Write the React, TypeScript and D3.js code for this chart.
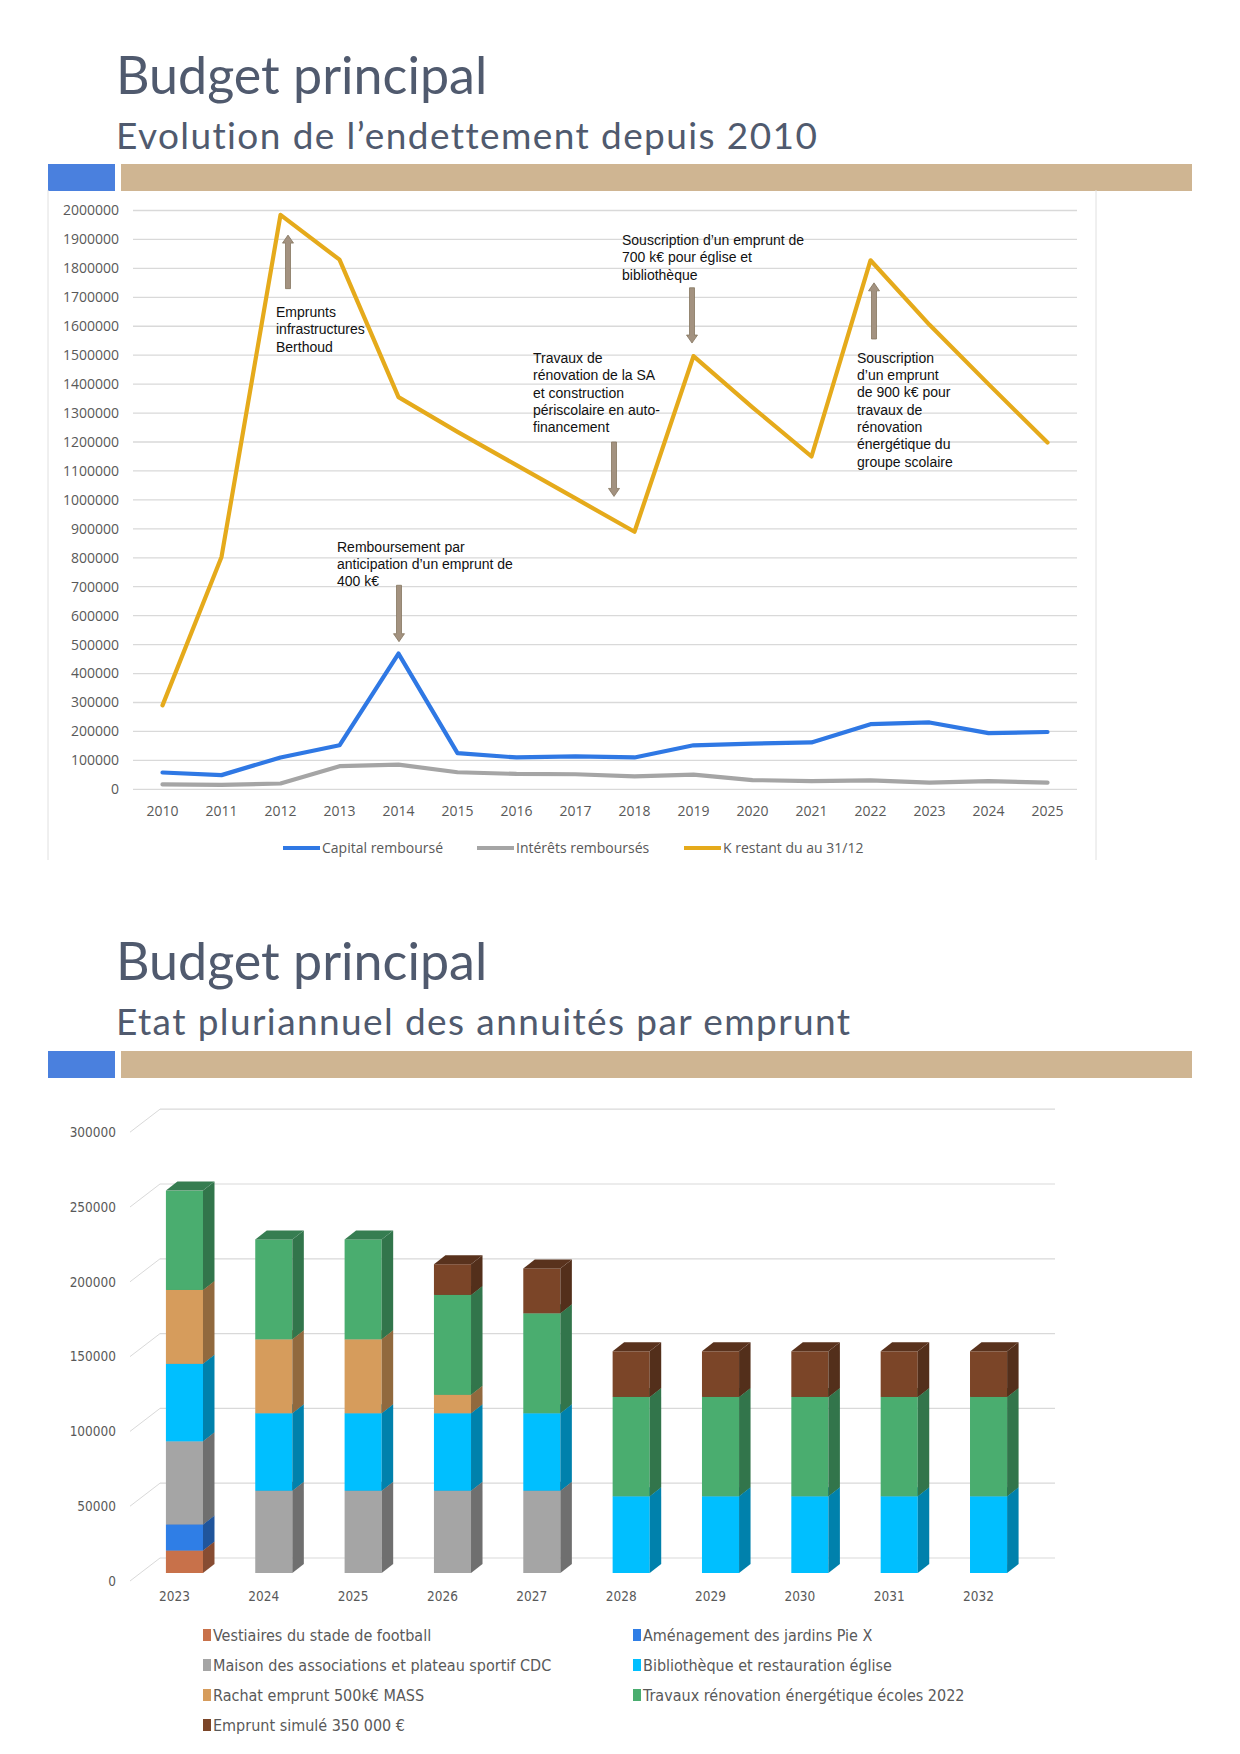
import React from 'react';
import * as d3 from 'd3';

// ---- chart 1 : evolution de l'endettement ----
const years = ['2010', '2011', '2012', '2013', '2014', '2015', '2016', '2017', '2018', '2019', '2020', '2021', '2022', '2023', '2024', '2025'];
const capitalRembourse = [58000, 49000, 110000, 152000, 469000, 125000, 110000, 114000, 110000, 152000, 158000, 162000, 225000, 231000, 194000, 198000];
const interetsRembourses = [17000, 15000, 20000, 80000, 85000, 59000, 53000, 52000, 45000, 51000, 32000, 28000, 31000, 23000, 28000, 23000];
const kRestant = [290000, 803000, 1985000, 1830000, 1355000, 1235000, 1120000, 1005000, 890000, 1497000, 1320000, 1150000, 1828000, 1605000, 1400000, 1198000];
const yTicks1 = d3.range(0, 2000001, 100000);

const series1 = [
  { name: 'Capital remboursé', values: capitalRembourse, color: '#2f78e4' },
  { name: 'Intérêts remboursés', values: interetsRembourses, color: '#a5a5a5' },
  { name: 'K restant du au 31/12', values: kRestant, color: '#e5aa1b' },
];

// annotations, anchored on a year + value positions
const notes = [
  { year: '2012', dx: -4.5, value: 1632000, lines: ['Emprunts', 'infrastructures', 'Berthoud'] },
  { year: '2014', dx: -61.5, value: 821000, lines: ['Remboursement par', 'anticipation d\u2019un emprunt de', '400 k€'] },
  { year: '2018', dx: -101.5, value: 1473000, lines: ['Travaux de', 'rénovation de la SA', 'et construction', 'périscolaire en auto-', 'financement'] },
  { year: '2019', dx: -71.5, value: 1881000, lines: ['Souscription d\u2019un emprunt de', '700 k€ pour église et', 'bibliothèque'] },
  { year: '2022', dx: -13.5, value: 1474000, lines: ['Souscription', 'd\u2019un emprunt', 'de 900 k€ pour', 'travaux de', 'rénovation', 'énergétique du', 'groupe scolaire'] },
];
const arrows = [
  { year: '2012', dx: 7.5, from: 1730000, to: 1915000 },
  { year: '2014', dx: 0.5, from: 705000, to: 510000 },
  { year: '2018', dx: -20.5, from: 1200000, to: 1012000 },
  { year: '2019', dx: -1.5, from: 1733000, to: 1542000 },
  { year: '2022', dx: 3.5, from: 1556000, to: 1750000 },
];

// ---- chart 2 : annuites par emprunt ----
const years2 = ['2023', '2024', '2025', '2026', '2027', '2028', '2029', '2030', '2031', '2032'];
const vestiaires = [15000, 0, 0, 0, 0, 0, 0, 0, 0, 0];
const amenagement = [17500, 0, 0, 0, 0, 0, 0, 0, 0, 0];
const maison = [55500, 55000, 55000, 55000, 55000, 0, 0, 0, 0, 0];
const bibliotheque = [51800, 51800, 51800, 51800, 51800, 51300, 51300, 51300, 51300, 51300];
const rachat = [49400, 49400, 49400, 12300, 0, 0, 0, 0, 0, 0];
const travaux = [66400, 66800, 66800, 66800, 66800, 66400, 66400, 66400, 66400, 66400];
const empruntSimule = [0, 0, 0, 20500, 30000, 30500, 30500, 30500, 30500, 30500];
const yTicks2 = [0, 50000, 100000, 150000, 200000, 250000, 300000];

const series2 = [
  { key: 'vestiaires', name: 'Vestiaires du stade de football', values: vestiaires, color: '#c8714a' },
  { key: 'amenagement', name: 'Aménagement des jardins Pie X', values: amenagement, color: '#2f7ee6' },
  { key: 'maison', name: 'Maison des associations et plateau sportif CDC', values: maison, color: '#a5a5a5' },
  { key: 'bibliotheque', name: 'Bibliothèque et restauration église', values: bibliotheque, color: '#00bfff' },
  { key: 'rachat', name: 'Rachat emprunt 500k€ MASS', values: rachat, color: '#d69c5c' },
  { key: 'travaux', name: 'Travaux rénovation énergétique écoles 2022', values: travaux, color: '#4aad6f' },
  { key: 'emprunt', name: 'Emprunt simulé 350 000 €', values: empruntSimule, color: '#7b4528' },
];

const TITLE_FONT = "Lato, 'Open Sans', sans-serif";
const AXIS_FONT = "'Open Sans', sans-serif";
const NARROW_FONT = "'Liberation Sans Narrow', 'DejaVu Sans Condensed', sans-serif";
const NOTE_FONT = "'Liberation Sans', Arial, sans-serif";

const Header: React.FC<{ titleY: number; subY: number; barY: number; sub: string }> = ({ titleY, subY, barY, sub }) => (
  <g>
    <text x={116} y={titleY} fontFamily={TITLE_FONT} fontSize={52} fill="#505a6e">Budget principal</text>
    <text x={116} y={subY} fontFamily={TITLE_FONT} fontSize={37} letterSpacing={1.4} fill="#505a6e">{sub}</text>
    <rect x={48} y={barY} width={67} height={27} fill="#4a80de" />
    <rect x={121} y={barY} width={1071} height={27} fill="#cfb592" />
  </g>
);

function arrowPath(x: number, y0: number, y1: number) {
  // y0 = tail, y1 = tip
  const dir = y1 > y0 ? 1 : -1;
  const hl = 8, sw = 2.5, hw = 5.5;
  const yb = y1 - dir * hl;
  return `M${x - sw},${y0} L${x + sw},${y0} L${x + sw},${yb} L${x + hw},${yb} L${x},${y1} L${x - hw},${yb} L${x - sw},${yb} Z`;
}

const LineChart: React.FC = () => {
  const x = d3.scalePoint<string>().domain(years).range([133, 1077]).padding(0.5);
  const y = d3.scaleLinear().domain([0, 2000000]).range([789.3, 210.5]);
  const line = d3.line<number>().x((_, i) => x(years[i]) as number).y(d => y(d));

  const legendPos = [283, 477, 684];
  return (
    <g>
      <line x1={48} x2={48} y1={190} y2={860} stroke="#e0e0e0" />
      <line x1={1096} x2={1096} y1={190} y2={860} stroke="#e0e0e0" />
      {yTicks1.map(t => (
        <g key={t}>
          <line x1={133} x2={1077} y1={y(t)} y2={y(t)} stroke="#d9d9d9" strokeWidth={1.3} />
          <text x={119} y={y(t)} dy="0.35em" textAnchor="end" fontFamily={AXIS_FONT} fontSize={14} fill="#595959">{t}</text>
        </g>
      ))}
      {years.map(yr => (
        <text key={yr} x={x(yr)} y={811} dy="0.35em" textAnchor="middle" fontFamily={AXIS_FONT} fontSize={14} fill="#595959">{yr}</text>
      ))}
      {series1.map(s => (
        <path key={s.name} d={line(s.values) || ''} fill="none" stroke={s.color} strokeWidth={4.2} strokeLinejoin="round" strokeLinecap="round" />
      ))}
      {arrows.map((a, i) => (
        <path key={i} d={arrowPath((x(a.year) as number) + a.dx, y(a.from), y(a.to))} fill="#a39280" stroke="#85765f" strokeWidth={0.8} />
      ))}
      {notes.map((n, i) => (
        <text key={i} x={(x(n.year) as number) + n.dx} y={y(n.value)} fontFamily={NOTE_FONT} fontSize={14} fill="#111">
          {n.lines.map((l, j) => (
            <tspan key={j} x={(x(n.year) as number) + n.dx} dy={j === 0 ? 0 : 17.3}>{l}</tspan>
          ))}
        </text>
      ))}
      {series1.map((s, i) => (
        <g key={s.name}>
          <line x1={legendPos[i]} x2={legendPos[i] + 37} y1={848} y2={848} stroke={s.color} strokeWidth={4.2} />
          <text x={legendPos[i] + 39} y={848} dy="0.35em" fontFamily={AXIS_FONT} fontSize={14} fill="#595959">{s.name}</text>
        </g>
      ))}
    </g>
  );
};

const BarChart3D: React.FC = () => {
  const x = d3.scaleBand<string>().domain(years2).range([140, 1033]).paddingInner(0.585).paddingOuter(0.29);
  const y = d3.scaleLinear().domain([0, 300000]).range([1573, 1573 - 448.8]);
  const depthX = 11.5, depthY = -9;
  const wallX = 30, wallY = -23;

  const rows = years2.map((yr, i) => {
    const r: Record<string, number | string> = { year: yr };
    series2.forEach(s => { r[s.key] = s.values[i]; });
    return r;
  });
  const stack = d3.stack<Record<string, number | string>>().keys(series2.map(s => s.key));
  const layers = stack(rows as any);
  const bw = x.bandwidth();

  return (
    <g>
      {yTicks2.map(t => {
        const ly = y(t) + 8;
        return (
          <g key={t}>
            <line x1={130} y1={ly} x2={130 + wallX} y2={ly + wallY} stroke="#d9d9d9" />
            <line x1={130 + wallX} x2={1055} y1={ly + wallY} y2={ly + wallY} stroke="#d9d9d9" strokeWidth={1.2} />
            <text x={116} y={ly} dy="0.35em" textAnchor="end" fontFamily={NARROW_FONT} fontSize={13.5} fill="#595959">{t}</text>
          </g>
        );
      })}
      {years2.map((yr, i) => (
        <g key={yr}>
          {layers.map((layer, k) => {
            const d = layer[i];
            if (d[1] - d[0] <= 0) return null;
            const base = d3.color(series2[k].color)!;
            const x0 = x(yr) as number;
            const x1 = x0 + bw;
            const yt = y(d[1]);
            const yb = y(d[0]);
            const side = base.darker(1.1).formatHex();
            const top = base.darker(0.9).formatHex();
            return (
              <g key={k}>
                <rect x={x0} y={yt} width={bw} height={yb - yt} fill={series2[k].color} />
                <path d={`M${x1},${yt} L${x1 + depthX},${yt + depthY} L${x1 + depthX},${yb + depthY} L${x1},${yb} Z`} fill={side} />
                <path d={`M${x0},${yt} L${x1},${yt} L${x1 + depthX},${yt + depthY} L${x0 + depthX},${yt + depthY} Z`} fill={top} />
              </g>
            );
          })}
          <text x={(x(yr) as number) + bw / 2 - 10} y={1596} dy="0.35em" textAnchor="middle" fontFamily={NARROW_FONT} fontSize={13.5} fill="#595959">{yr}</text>
        </g>
      ))}
      {series2.map((s, i) => {
        const col = i % 2;
        const row = Math.floor(i / 2);
        const lx = col === 0 ? 203 : 633;
        const ly = 1635 + row * 30;
        return (
          <g key={s.key}>
            <rect x={lx} y={ly - 6} width={8} height={12} fill={s.color} />
            <text x={lx + 10} y={ly} dy="0.35em" fontFamily={NARROW_FONT} fontSize={16} fill="#595959">{s.name}</text>
          </g>
        );
      })}
    </g>
  );
};

export default function App() {
  return (
    <svg width={1240} height={1754} style={{ position: 'absolute', left: 0, top: 0, background: '#fff' }}>
      <rect width={1240} height={1754} fill="#fff" />
      <Header titleY={94} subY={149} barY={164} sub={'Evolution de l\u2019endettement depuis 2010'} />
      <LineChart />
      <Header titleY={980} subY={1035} barY={1051} sub={'Etat pluriannuel des annuités par emprunt'} />
      <BarChart3D />
    </svg>
  );
}
